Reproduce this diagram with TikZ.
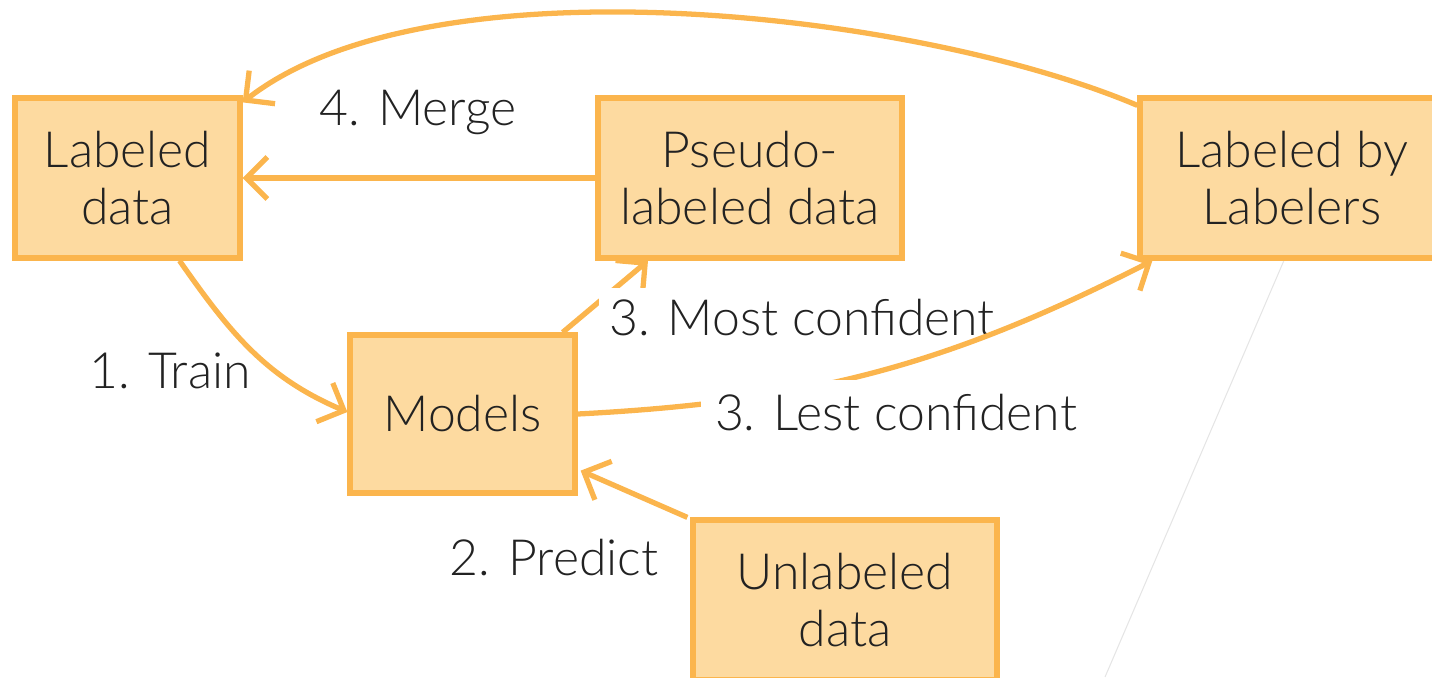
\documentclass[tikz,border=0pt]{standalone}
\usepackage{fontspec}
\setmainfont{Lato Light}
\usetikzlibrary{arrows.meta}

\definecolor{boxfill}{HTML}{FDDAA0}
\definecolor{boxline}{HTML}{FBB54D}
\definecolor{txt}{HTML}{222222}

\begin{document}
\begin{tikzpicture}[font=\fontsize{14.2}{16}\selectfont, text=txt]
  \useasboundingbox (0,0) rectangle (14.32,-6.77);

  % faint thin line below the right box
  \draw [black!10, line width=0.3pt] (12.85,-2.58) -- (11.05,-6.77);

  \begin{scope}[every node/.style={rectangle, draw=boxline, fill=boxfill, line width=1.5pt, align=center, minimum width=2.25cm, minimum height=1.6cm}]
    \node (lab) at (1.275,-1.78) {Labeled\\data};
    \node [minimum width=3.04cm] (pseudo) at (7.5,-1.78) {Pseudo-\\labeled data};
    \node [minimum width=3.04cm] (hum) at (12.92,-1.78) {Labeled by\\Labelers};
    \node [minimum height=1.58cm] (mod) at (4.625,-4.14) {Models};
    \node [minimum width=3.04cm] (unlab) at (8.45,-6.0) {Unlabeled\\data};
  \end{scope}

  \begin{scope}[->, >={Straight Barb[length=2.1mm, width=4.2mm]}, line width=1.5pt, draw=boxline]
    % 1. train
    \draw ([xshift=0.52cm]lab.south) to [out=-55, in=157] ([yshift=0.02cm]mod.west);
    % 2. predict
    \draw ([xshift=-0.03cm]unlab.north west) -- ([xshift=0.03cm, yshift=0.25cm]mod.south east);
    % 3. most confident
    \draw ([xshift=-0.15cm]mod.north east) -- ([xshift=-1.02cm]pseudo.south);
    \node [fill=white, inner sep=3pt, anchor=base] (most) at (8.02,-3.35) {3. Most confident};
    % 3. lest confident
    \draw (mod.east) to [out=3, in=207] ([xshift=0.15cm]hum.south west);
    \node [fill=white, inner sep=4pt, anchor=base] (lest) at (8.96,-4.3) {3. Lest confident};
    % 4. merge
    \draw (pseudo.west) -- (lab.east);
    \draw ([yshift=-0.1cm]hum.north west) to [out=157, in=38, looseness=0.68] ([yshift=-0.07cm]lab.north east);
  \end{scope}

  \node [anchor=base] (merge) at (4.18,-1.25) {4. Merge};
  \node [anchor=base] (train) at (1.70,-3.88) {1. Train};
  \node [anchor=base] (predict) at (5.54,-5.75) {2. Predict};
\end{tikzpicture}
\end{document}
